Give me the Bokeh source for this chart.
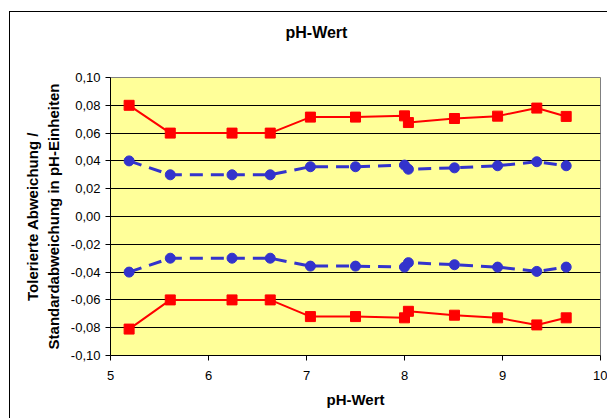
from bokeh.plotting import figure
from bokeh.models import FixedTicker, Title, ColumnDataSource
from bokeh.embed import file_html
from bokeh.resources import INLINE

ph = [5.19, 5.61, 6.24, 6.63, 7.04, 7.50, 8.00, 8.04, 8.51, 8.95, 9.35, 9.65]
tol_upper = [0.080, 0.060, 0.060, 0.060, 0.0715, 0.0715, 0.0724, 0.0676, 0.0705, 0.0722, 0.078, 0.072]
std_upper = [0.040, 0.030, 0.030, 0.030, 0.0358, 0.0358, 0.037, 0.034, 0.035, 0.0365, 0.0394, 0.0365]
std_lower = [-0.040, -0.030, -0.030, -0.030, -0.0357, -0.0357, -0.0364, -0.0332, -0.0347, -0.0364, -0.0395, -0.0364]
tol_lower = [-0.081, -0.060, -0.060, -0.060, -0.072, -0.072, -0.0729, -0.0682, -0.071, -0.0729, -0.078, -0.0729]

y_ticks = [-0.1, -0.08, -0.06, -0.04, -0.02, 0.0, 0.02, 0.04, 0.06, 0.08, 0.1]
y_tick_labels = ["-0,10", "-0,08", "-0,06", "-0,04", "-0,02", "0,00", "0,02", "0,04", "0,06", "0,08", "0,10"]
x_ticks = [5, 6, 7, 8, 9, 10]
title_text = "pH-Wert"

FONT = "Liberation Sans"

p = figure(width=598, height=407, x_range=(5, 10), y_range=(-0.1, 0.1),
           output_backend="svg", toolbar_location=None,
           min_border_left=100, min_border_right=8, min_border_top=65, min_border_bottom=64,
           background_fill_color="#FFFF99", border_fill_color="white")
p.styles = {"margin-left": "9px", "margin-top": "11px",
            "border-left": "1px solid black", "border-top": "1px solid black"}

p.outline_line_color = "#808080"
p.outline_line_width = 1

p.xgrid.visible = False
p.ygrid.ticker = FixedTicker(ticks=y_ticks)
p.ygrid.grid_line_color = "black"
p.ygrid.grid_line_width = 1

p.yaxis.ticker = FixedTicker(ticks=y_ticks)
p.yaxis.major_label_overrides = {t: l for t, l in zip(y_ticks, y_tick_labels)}
p.xaxis.ticker = FixedTicker(ticks=x_ticks)

for ax in (p.xaxis[0], p.yaxis[0]):
    ax.axis_line_color = "black"
    ax.major_tick_line_color = "black"
    ax.major_tick_out = 5
    ax.major_tick_in = 0
    ax.minor_tick_line_color = None
    ax.major_label_text_font = FONT
    ax.major_label_text_font_size = "13px"
    ax.major_label_text_color = "black"
    ax.axis_label_text_font = FONT
    ax.axis_label_text_font_style = "bold"
    ax.axis_label_text_font_size = "15px"
    ax.axis_label_text_color = "black"

p.xaxis.axis_label = "pH-Wert"
p.xaxis.major_label_standoff = 10
p.xaxis.axis_label_standoff = 8
p.yaxis.axis_label = "Tolerierte Abweichung /\nStandardabweichung in pH-Einheiten"
p.yaxis.major_label_standoff = 5
p.yaxis.axis_label_standoff = 6

# spacer between frame and title (nearest to the frame)
p.add_layout(Title(text=" ", text_font_size="1px", standoff=29), "above")

# real title (outermost)
p.title.text = title_text
p.title.align = "left"
p.title.offset = 175
p.title.standoff = 10
p.title.text_font = FONT
p.title.text_font_size = "16px"
p.title.text_font_style = "bold"
p.title.text_color = "black"

src = ColumnDataSource(dict(ph=ph, tu=tol_upper, su=std_upper, sl=std_lower, tl=tol_lower))

red = "#FF0000"
blue = "#3333CC"
for col in ("tu", "tl"):
    p.line("ph", col, source=src, line_color=red, line_width=2)
    p.scatter("ph", col, source=src, marker="square", size=10, fill_color=red, line_color=red)
for col in ("su", "sl"):
    p.line("ph", col, source=src, line_color=blue, line_width=3, line_dash="13 8")
    p.scatter("ph", col, source=src, marker="circle", size=10, fill_color=blue, line_color=blue)

open("out.html", "w").write(file_html(p, INLINE))
